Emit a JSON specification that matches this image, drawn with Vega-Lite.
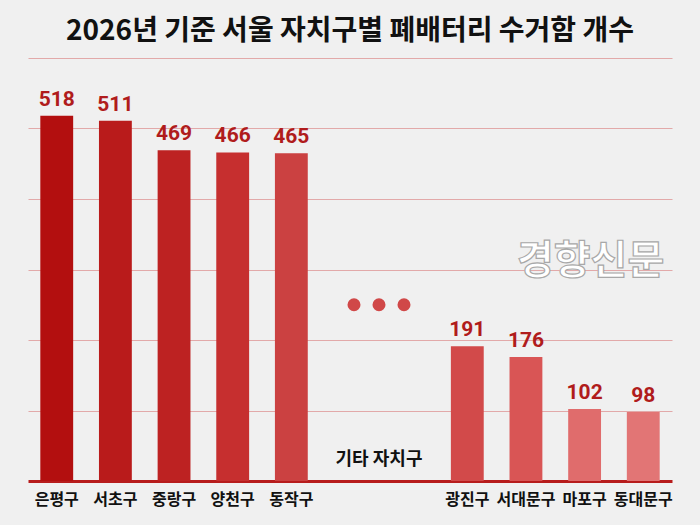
{
  "$schema": "https://vega.github.io/schema/vega-lite/v6.json",
  "autosize": {"type": "none"},
  "width": 644,
  "height": 423,
  "padding": {"left": 28, "top": 58, "right": 28, "bottom": 44},
  "background": "#f0f0f0",
  "title": {
    "text": "2026년 기준 서울 자치구별 폐배터리 수거함 개수",
    "anchor": "middle",
    "frame": "group",
    "font": "Noto Sans CJK KR",
    "fontSize": 28,
    "fontWeight": "bold",
    "color": "#111111",
    "offset": 12
  },
  "config": {
    "view": {"stroke": null},
    "font": "Noto Sans CJK KR"
  },
  "data": {
    "values": [
      {"district": "은평구", "count": 518},
      {"district": "서초구", "count": 511},
      {"district": "중랑구", "count": 469},
      {"district": "양천구", "count": 466},
      {"district": "동작구", "count": 465},
      {"district": "광진구", "count": 191},
      {"district": "서대문구", "count": 176},
      {"district": "마포구", "count": 102},
      {"district": "동대문구", "count": 98}
    ]
  },
  "encoding": {
    "x": {
      "field": "district",
      "type": "nominal",
      "sort": null,
      "scale": {
        "domain": ["은평구", "서초구", "중랑구", "양천구", "동작구", "gapA", "gapB", "광진구", "서대문구", "마포구", "동대문구"],
        "paddingInner": 0.44,
        "paddingOuter": 0.21
      },
      "axis": {
        "title": null,
        "labelAngle": 0,
        "labelExpr": "datum.value == 'gapA' || datum.value == 'gapB' ? '' : datum.label",
        "labelFont": "Noto Sans CJK KR",
        "labelFontSize": 16,
        "labelFontWeight": "bold",
        "labelColor": "#111111",
        "labelPadding": 10,
        "labelOverlap": false,
        "ticks": false,
        "domainColor": "#b71c1c",
        "domainWidth": 3,
        "grid": false
      }
    },
    "y": {
      "field": "count",
      "type": "quantitative",
      "scale": {"domain": [0, 600], "nice": false},
      "axis": {
        "title": null,
        "labels": false,
        "ticks": false,
        "domain": false,
        "grid": true,
        "values": [100, 200, 300, 400, 500, 600],
        "gridColor": "#e2a9a9",
        "gridWidth": 1
      }
    }
  },
  "layer": [
    {
      "mark": {"type": "bar"},
      "encoding": {
        "color": {
          "field": "district",
          "type": "nominal",
          "legend": null,
          "scale": {
            "domain": ["은평구", "서초구", "중랑구", "양천구", "동작구", "광진구", "서대문구", "마포구", "동대문구"],
            "range": ["#b30f0f", "#b91b1b", "#bd2222", "#c62f2f", "#cb4141", "#d24a4a", "#d95555", "#e06c6c", "#e27575"]
          }
        }
      }
    },
    {
      "mark": {
        "type": "text",
        "baseline": "bottom",
        "dy": -6,
        "font": "Roboto",
        "fontSize": 21,
        "fontWeight": "bold",
        "color": "#b01c1c"
      },
      "encoding": {
        "text": {"field": "count", "type": "quantitative"}
      }
    },
    {
      "data": {"values": [{"label": "기타 자치구", "v": 30, "d": "gapA"}]},
      "mark": {"type": "text", "font": "Noto Sans CJK KR", "fontSize": 18, "fontWeight": "bold", "color": "#111111", "baseline": "middle", "dx": 29},
      "encoding": {
        "x": {"field": "d", "type": "nominal"},
        "y": {"field": "v", "type": "quantitative"},
        "text": {"field": "label", "type": "nominal"}
      }
    },
    {
      "data": {"values": [{"d": "gapA", "v": 250}]},
      "mark": {"type": "point", "shape": "circle", "filled": true, "size": 170, "color": "#d04848", "opacity": 1, "xOffset": 4},
      "encoding": {
        "x": {"field": "d", "type": "nominal"},
        "y": {"field": "v", "type": "quantitative"}
      }
    },
    {
      "data": {"values": [{"d": "gapA", "v": 250}]},
      "mark": {"type": "point", "shape": "circle", "filled": true, "size": 170, "color": "#d04848", "opacity": 1, "xOffset": 29},
      "encoding": {
        "x": {"field": "d", "type": "nominal"},
        "y": {"field": "v", "type": "quantitative"}
      }
    },
    {
      "data": {"values": [{"d": "gapA", "v": 250}]},
      "mark": {"type": "point", "shape": "circle", "filled": true, "size": 170, "color": "#d04848", "opacity": 1, "xOffset": 54},
      "encoding": {
        "x": {"field": "d", "type": "nominal"},
        "y": {"field": "v", "type": "quantitative"}
      }
    },
    {
      "data": {"values": [{"label": "경향신문", "d": "마포구", "v": 310}]},
      "mark": {"type": "text", "font": "Noto Sans CJK KR", "fontSize": 40, "fontWeight": "bold", "fill": "#ffffff", "stroke": "#a8a8a8", "strokeWidth": 1.2, "baseline": "middle", "dx": 6},
      "encoding": {
        "x": {"field": "d", "type": "nominal"},
        "y": {"field": "v", "type": "quantitative"},
        "text": {"field": "label", "type": "nominal"}
      }
    }
  ]
}
